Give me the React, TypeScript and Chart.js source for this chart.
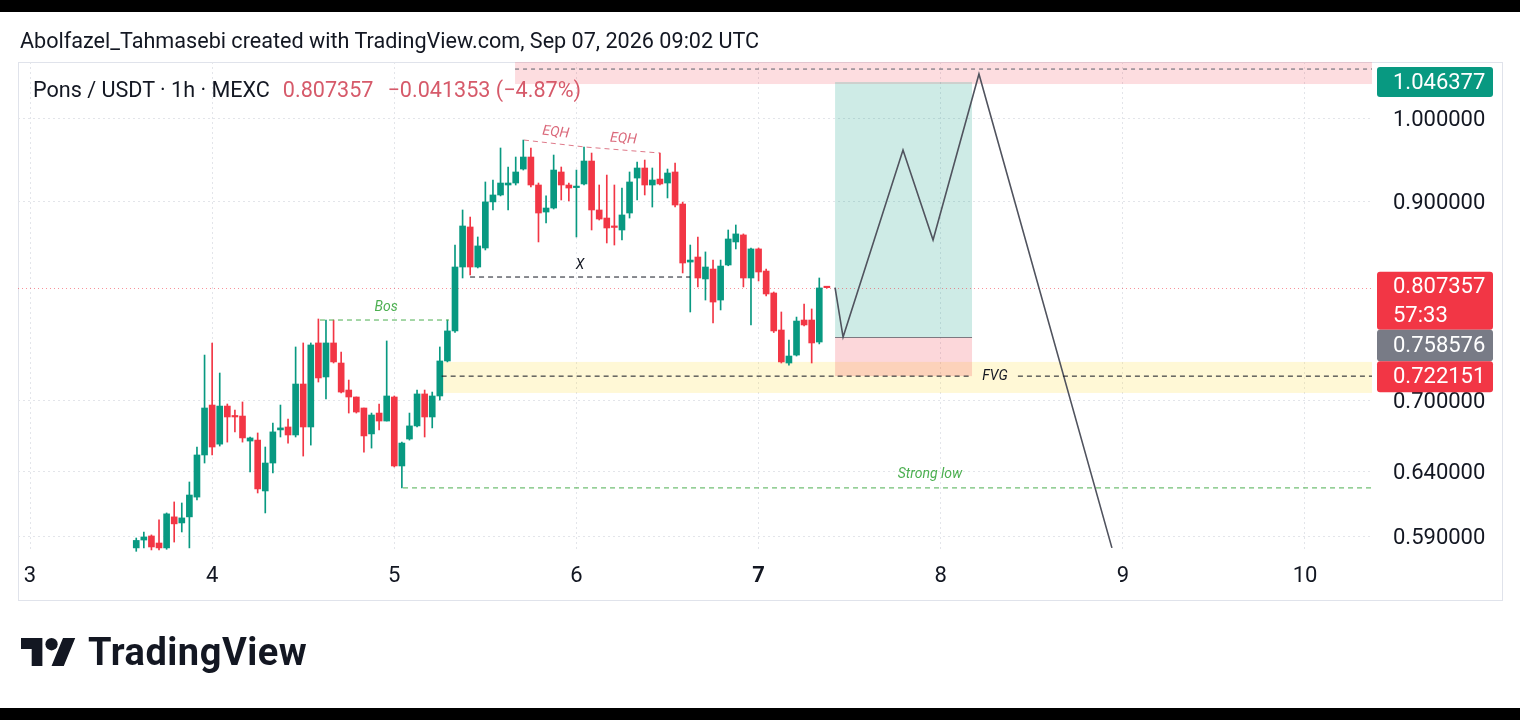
import React, { useEffect, useRef } from 'react';
import { Chart, registerables } from 'chart.js';

Chart.register(...registerables);

// ---------- DATA ----------
// 1h candles of Pons/USDT, first visible candle = day 3, 14:00 UTC
const FIRST_CANDLE_HOUR = 3 * 24 + 14;
const opens = [
  0.5815, 0.5873, 0.5903, 0.5851, 0.5815, 0.6047, 0.6001, 0.6047, 0.6200, 0.6538,
  0.6963, 0.6628, 0.6954, 0.6867, 0.6867, 0.6654, 0.6662, 0.6248, 0.6472, 0.6748,
  0.6773, 0.6705, 0.7150, 0.6773, 0.7530, 0.7214, 0.7530, 0.7342, 0.7096, 0.7034,
  0.6937, 0.6714, 0.6893, 0.6824, 0.7034, 0.6448, 0.6671, 0.6782, 0.7061, 0.6859,
  0.7043, 0.7361, 0.7645, 0.8287, 0.8716, 0.8287, 0.8488, 0.8996, 0.9075, 0.9190,
  0.9213, 0.9377, 0.9520, 0.9190, 0.8882, 0.8927, 0.9342, 0.9190, 0.9160, 0.9202,
  0.9472, 0.8905, 0.8815, 0.8722, 0.8683, 0.8871, 0.9271, 0.9389, 0.9190, 0.9259,
  0.9213, 0.9342, 0.8972, 0.8339, 0.8392, 0.8163, 0.8266, 0.7949, 0.8308, 0.8553,
  0.8629, 0.8173, 0.8478, 0.8245, 0.8020, 0.7654, 0.7342, 0.7416, 0.7751, 0.7751,
  0.7539, 0.8078,
];
const highs = [
  0.5888, 0.5933, 0.5911, 0.6024, 0.6077, 0.6162, 0.6154, 0.6319, 0.6604, 0.7416,
  0.7530, 0.7250, 0.6972, 0.6919, 0.6990, 0.6688, 0.6722, 0.6604, 0.6807, 0.6963,
  0.6841, 0.7492, 0.7530, 0.7530, 0.7761, 0.7751, 0.7751, 0.7444, 0.7186, 0.7034,
  0.6937, 0.6893, 0.6972, 0.7549, 0.7043, 0.6645, 0.6893, 0.7096, 0.7096, 0.7078,
  0.7492, 0.7751, 0.8520, 0.8905, 0.8826, 0.8607, 0.9225, 0.9248, 0.9629, 0.9401,
  0.9520, 0.9726, 0.9629, 0.9213, 0.9064, 0.9544, 0.9401, 0.9213, 0.9365, 0.9641,
  0.9568, 0.9190, 0.9306, 0.9190, 0.9155, 0.9342, 0.9460, 0.9484, 0.9389, 0.9568,
  0.9377, 0.9448, 0.8994, 0.8520, 0.8607, 0.8446, 0.8360, 0.8360, 0.8683, 0.8738,
  0.8640, 0.8488, 0.8488, 0.8266, 0.8030, 0.7830, 0.7558, 0.7780, 0.7908, 0.7860,
  0.8173, 0.8082,
];
const lows = [
  0.5790, 0.5815, 0.5800, 0.5800, 0.5805, 0.5858, 0.5933, 0.5815, 0.6177, 0.6472,
  0.6538, 0.6612, 0.6645, 0.6731, 0.6645, 0.6399, 0.6232, 0.6077, 0.6391, 0.6688,
  0.6637, 0.6688, 0.6529, 0.6620, 0.7168, 0.7016, 0.7342, 0.7070, 0.6893, 0.6893,
  0.6562, 0.6595, 0.6748, 0.6824, 0.6440, 0.6272, 0.6662, 0.6773, 0.6688, 0.6765,
  0.7007, 0.7352, 0.7630, 0.8173, 0.8204, 0.8277, 0.8467, 0.8905, 0.9064, 0.8905,
  0.9190, 0.9365, 0.9167, 0.8553, 0.8760, 0.8916, 0.9018, 0.9006, 0.8607, 0.9190,
  0.8683, 0.8793, 0.8542, 0.8520, 0.8574, 0.8815, 0.9018, 0.9075, 0.8938, 0.9190,
  0.9041, 0.8938, 0.8225, 0.7830, 0.8081, 0.7949, 0.7722, 0.7850, 0.8300, 0.8478,
  0.8081, 0.7703, 0.8142, 0.7990, 0.7630, 0.7342, 0.7323, 0.7407, 0.7694, 0.7342,
  0.7521, 0.8068,
];
const closes = [
  0.5870, 0.5896, 0.5822, 0.5815, 0.6070, 0.5994, 0.6039, 0.6216, 0.6538, 0.6937,
  0.6604, 0.6954, 0.6859, 0.6859, 0.6680, 0.6680, 0.6264, 0.6472, 0.6731, 0.6765,
  0.6705, 0.7150, 0.6773, 0.7511, 0.7205, 0.7530, 0.7352, 0.7078, 0.7034, 0.6902,
  0.6697, 0.6876, 0.6824, 0.7043, 0.6448, 0.6637, 0.6782, 0.7061, 0.6859, 0.7043,
  0.7361, 0.7645, 0.8287, 0.8727, 0.8287, 0.8510, 0.8996, 0.9075, 0.9213, 0.9213,
  0.9342, 0.9520, 0.9190, 0.8871, 0.8927, 0.9365, 0.9190, 0.9155, 0.9172, 0.9472,
  0.8905, 0.8804, 0.8705, 0.8711, 0.8849, 0.9225, 0.9389, 0.9190, 0.9248, 0.9202,
  0.9330, 0.8961, 0.8329, 0.8360, 0.8173, 0.8287, 0.7929, 0.8297, 0.8585, 0.8640,
  0.8173, 0.8478, 0.8235, 0.8010, 0.7645, 0.7352, 0.7407, 0.7741, 0.7703, 0.7530,
  0.8071, 0.807357,
];

// axis ticks
const TIME_TICKS = [3, 4, 5, 6, 7, 8, 9, 10];
const BOLD_DAY = 7;
const PRICE_TICKS = [0.59, 0.64, 0.7, 0.9, 1.0];

// price levels
const LAST_PRICE = 0.807357;
const ENTRY_PRICE = 0.758576;
const TARGET_PRICE = 1.046377;
const STOP_PRICE = 0.722151;
const COUNTDOWN = '57:33';

// drawings (time in days, price)
const TARGET_ZONE = { start: 5.663, top: 1.09, bottom: 1.0438, dash: 1.0637 };
const FVG_ZONE = { start: 5.26, top: 0.7352, bottom: 0.707, level: STOP_PRICE, gapFrom: 8.172, gapTo: 8.424 };
const POSITION = { start: 7.42, end: 8.172 };
const PATH_TIMES = [7.42, 7.464, 7.793, 7.958, 8.21, 8.94];
const PATH_PRICES = [0.807357, 0.758576, 0.9605, 0.8574, 1.0571, 0.5815];
const X_LINE = { from: 5.416, to: 6.624, price: 0.8183 };
const BOS_LINE = { from: 4.592, to: 5.3, price: 0.7751 };
const STRONG_LOW = { from: 5.048, price: 0.6272 };
const EQH_TIMES = [5.712, 6.047, 6.459];
const EQH_PRICES = [0.9726, 0.9641, 0.9568];

// label anchors (time)
const LABEL_X_T = 6.02;
const LABEL_BOS_T = 4.955;
const LABEL_STRONG_T = 7.941;
const LABEL_FVG_T = 8.298;

// ---------- STYLE ----------
const UP = '#089981';
const DOWN = '#f23645';
const HEADER_RED = '#d65a6a';
const TEXT = '#131722';
const GRID = '#e3e5ea';
const X_MIN = 2.9341;
const X_MAX = 10.3679;
const Y_MIN = 0.5785;
const Y_MAX = 1.0732;
const FONT = 'Roboto, "Noto Sans", sans-serif';

const candleTimes = opens.map((_, i) => (FIRST_CANDLE_HOUR + i) / 24);
const candleColors = opens.map((o, i) => (closes[i] >= o ? UP : DOWN));

function seg(xs: number[], ys: number[], color: string, dash: number[], width = 1) {
  return {
    type: 'line' as const,
    data: xs.map((x, i) => ({ x, y: ys[i] })),
    borderColor: color,
    borderDash: dash,
    borderWidth: width,
    pointRadius: 0,
    tension: 0,
    fill: false,
    order: 1,
  };
}

const overlayPlugin = {
  id: 'overlay',
  beforeDatasetsDraw(chart: any) {
    const { ctx, chartArea: a, scales } = chart;
    const xs = scales.x;
    const ys = scales.y;
    ctx.save();
    ctx.beginPath();
    ctx.rect(a.left, a.top, a.right - a.left, a.bottom - a.top);
    ctx.clip();
    const rect = (t0: number, t1: number, p0: number, p1: number, c: string) => {
      const x0 = xs.getPixelForValue(t0);
      const x1 = xs.getPixelForValue(t1);
      const y0 = ys.getPixelForValue(p0);
      const y1 = ys.getPixelForValue(p1);
      ctx.fillStyle = c;
      ctx.fillRect(Math.min(x0, x1), Math.min(y0, y1), Math.abs(x1 - x0), Math.abs(y1 - y0));
    };
    rect(TARGET_ZONE.start, X_MAX, TARGET_ZONE.top, TARGET_ZONE.bottom, 'rgba(242,54,69,0.17)');
    rect(FVG_ZONE.start, X_MAX, FVG_ZONE.top, FVG_ZONE.bottom, 'rgba(255,225,70,0.22)');
    rect(POSITION.start, POSITION.end, TARGET_PRICE, ENTRY_PRICE, 'rgba(8,153,129,0.2)');
    rect(POSITION.start, POSITION.end, ENTRY_PRICE, STOP_PRICE, 'rgba(242,54,69,0.2)');
    // entry line
    const ey = Math.round(ys.getPixelForValue(ENTRY_PRICE)) + 0.5;
    ctx.strokeStyle = 'rgba(110,110,118,0.9)';
    ctx.lineWidth = 1;
    ctx.beginPath();
    ctx.moveTo(xs.getPixelForValue(POSITION.start), ey);
    ctx.lineTo(xs.getPixelForValue(POSITION.end), ey);
    ctx.stroke();
    // last price dotted line
    const ly = Math.round(ys.getPixelForValue(LAST_PRICE)) + 0.5;
    ctx.strokeStyle = 'rgba(242,54,69,0.55)';
    ctx.setLineDash([1, 3]);
    ctx.beginPath();
    ctx.moveTo(a.left, ly);
    ctx.lineTo(a.right, ly);
    ctx.stroke();
    ctx.restore();
  },
  afterDatasetsDraw(chart: any) {
    const { ctx, scales } = chart;
    const xs = scales.x;
    const ys = scales.y;
    ctx.save();
    ctx.textAlign = 'center';
    ctx.textBaseline = 'middle';
    const label = (txt: string, t: number, p: number, dy: number, color: string, size = 14) => {
      ctx.font = `italic ${size}px ${FONT}`;
      ctx.fillStyle = color;
      ctx.fillText(txt, xs.getPixelForValue(t), ys.getPixelForValue(p) + dy);
    };
    label('X', LABEL_X_T, X_LINE.price, -12, TEXT);
    label('Bos', LABEL_BOS_T, BOS_LINE.price, -13, '#4caf50');
    label('Strong low', LABEL_STRONG_T, STRONG_LOW.price, -13, '#4caf50');
    label('FVG', LABEL_FVG_T, FVG_ZONE.level, 0, TEXT);
    // EQH labels, rotated along the segments
    for (let i = 0; i < EQH_TIMES.length - 1; i++) {
      const x0 = xs.getPixelForValue(EQH_TIMES[i]);
      const x1 = xs.getPixelForValue(EQH_TIMES[i + 1]);
      const y0 = ys.getPixelForValue(EQH_PRICES[i]);
      const y1 = ys.getPixelForValue(EQH_PRICES[i + 1]);
      ctx.save();
      ctx.translate((x0 + x1) / 2, (y0 + y1) / 2);
      ctx.rotate(Math.atan2(y1 - y0, x1 - x0));
      ctx.font = `italic 14px ${FONT}`;
      ctx.fillStyle = 'rgba(214,88,108,0.9)';
      ctx.fillText('EQH', 0, -11);
      ctx.restore();
    }
    ctx.restore();
  },
  afterDraw(chart: any) {
    const { ctx, chartArea: a, scales } = chart;
    const ys = scales.y;
    ctx.save();
    ctx.font = `22px ${FONT}`;
    ctx.textBaseline = 'middle';
    ctx.textAlign = 'left';
    const bx = a.right + 5;
    const bw = 116;
    const tx = a.right + 21;
    const box = (top: number, h: number, color: string, lines: string[]) => {
      ctx.fillStyle = color;
      ctx.beginPath();
      (ctx as any).roundRect(bx, top, bw, h, 3);
      ctx.fill();
      ctx.fillStyle = '#ffffff';
      const lh = h / lines.length;
      lines.forEach((l, i) => ctx.fillText(l, tx, top + lh * i + lh / 2 + 1));
    };
    const tY = ys.getPixelForValue(TARGET_PRICE);
    box(tY - 15, 30, UP, [TARGET_PRICE.toFixed(6)]);
    const lY = ys.getPixelForValue(LAST_PRICE);
    const redTop = lY - 16;
    box(redTop, 58, DOWN, [LAST_PRICE.toFixed(6), COUNTDOWN]);
    const eY = ys.getPixelForValue(ENTRY_PRICE);
    const grayTop = Math.max(eY - 15, redTop + 58);
    const sY = ys.getPixelForValue(STOP_PRICE);
    const stopTop = Math.max(sY - 15, grayTop + 30);
    box(grayTop, stopTop - grayTop, '#787b86', [ENTRY_PRICE.toFixed(6)]);
    box(stopTop, 31, DOWN, [STOP_PRICE.toFixed(6)]);
    ctx.restore();
  },
};

export default function App() {
  const ref = useRef<HTMLCanvasElement>(null);

  useEffect(() => {
    const datasets: any[] = [
      {
        type: 'bar',
        label: 'wicks',
        data: candleTimes.map((t, i) => ({ x: t, y: [lows[i], highs[i]] })),
        backgroundColor: candleColors,
        barThickness: 1,
        grouped: false,
        borderWidth: 0,
        order: 3,
      },
      {
        type: 'bar',
        label: 'bodies',
        data: candleTimes.map((t, i) => ({ x: t, y: [opens[i], closes[i]] })),
        backgroundColor: candleColors,
        barThickness: 6,
        grouped: false,
        borderWidth: 0,
        minBarLength: 1.5,
        order: 2,
      },
      seg([TARGET_ZONE.start, X_MAX], [TARGET_ZONE.dash, TARGET_ZONE.dash], '#5d606b', [4, 4]),
      seg([FVG_ZONE.start, FVG_ZONE.gapFrom], [FVG_ZONE.level, FVG_ZONE.level], TEXT, [5, 4]),
      seg([FVG_ZONE.gapTo, X_MAX], [FVG_ZONE.level, FVG_ZONE.level], TEXT, [5, 4]),
      seg([X_LINE.from, X_LINE.to], [X_LINE.price, X_LINE.price], TEXT, [5, 4]),
      seg([BOS_LINE.from, BOS_LINE.to], [BOS_LINE.price, BOS_LINE.price], '#4caf50', [5, 4]),
      seg([STRONG_LOW.from, X_MAX], [STRONG_LOW.price, STRONG_LOW.price], '#4caf50', [5, 4]),
      seg(EQH_TIMES, EQH_PRICES, 'rgba(214,88,108,0.8)', [5, 4]),
      seg(PATH_TIMES, PATH_PRICES, '#50535e', [], 1.6),
    ];

    const chart = new Chart(ref.current as HTMLCanvasElement, {
      type: 'bar',
      data: { datasets },
      options: {
        animation: false,
        responsive: false,
        devicePixelRatio: 1,
        events: [],
        layout: { padding: { left: 18, top: 62, right: 18, bottom: 120 } },
        plugins: { legend: { display: false }, tooltip: { enabled: false } },
        scales: {
          x: {
            type: 'linear',
            min: X_MIN,
            max: X_MAX,
            offset: false,
            grid: { color: GRID, drawTicks: false, offset: false },
            border: { display: false, dash: [2, 3] },
            ticks: {
              padding: 11,
              color: TEXT,
              autoSkip: false,
              maxRotation: 0,
              font: (c: any) => ({
                family: FONT,
                size: 22,
                weight: c.tick && c.tick.value === BOLD_DAY ? 'bold' : 'normal',
              }),
              callback: (v: any) => String(v),
            },
            afterBuildTicks: (s: any) => {
              s.ticks = TIME_TICKS.map((v) => ({ value: v }));
            },
            afterFit: (s: any) => {
              s.height = 48;
            },
          },
          y: {
            type: 'logarithmic',
            position: 'right',
            min: Y_MIN,
            max: Y_MAX,
            grid: { color: GRID, drawTicks: false },
            border: { display: false, dash: [2, 3] },
            ticks: {
              padding: 21,
              labelOffset: 2,
              color: TEXT,
              font: { family: FONT, size: 22 },
              callback: (v: any) => Number(v).toFixed(6),
            },
            afterBuildTicks: (s: any) => {
              s.ticks = PRICE_TICKS.map((v) => ({ value: v }));
            },
            afterFit: (s: any) => {
              s.width = 130;
            },
          },
        },
      } as any,
      plugins: [overlayPlugin],
    });
    return () => chart.destroy();
  }, []);

  return (
    <div
      style={{
        position: 'fixed',
        left: 0,
        top: 0,
        width: 1520,
        height: 720,
        background: '#ffffff',
        overflow: 'hidden',
        fontFamily: FONT,
        color: TEXT,
      }}
    >
      <div style={{ position: 'absolute', left: 0, top: 0, width: 1520, height: 12, background: '#000' }} />
      <div style={{ position: 'absolute', left: 0, top: 708, width: 1520, height: 12, background: '#000' }} />
      <div
        style={{
          position: 'absolute',
          left: 18,
          top: 62,
          width: 1485,
          height: 539,
          border: '1px solid #e0e3eb',
          boxSizing: 'border-box',
        }}
      />
      <canvas ref={ref} width={1520} height={720} style={{ position: 'absolute', left: 0, top: 0 }} />
      <div style={{ position: 'absolute', left: 20, top: 29, fontSize: 21.6, lineHeight: '24px', whiteSpace: 'nowrap' }}>
        Abolfazel_Tahmasebi created with TradingView.com, Sep 07, 2026 09:02 UTC
      </div>
      <div style={{ position: 'absolute', left: 33, top: 78, fontSize: 21.6, lineHeight: '24px', whiteSpace: 'nowrap' }}>
        <span>Pons / USDT · 1h · MEXC</span>
        <span style={{ color: HEADER_RED, marginLeft: 13 }}>0.807357</span>
        <span style={{ color: HEADER_RED, marginLeft: 14 }}>−0.041353 (−4.87%)</span>
      </div>
      <svg
        width="55"
        height="28"
        viewBox="0 4 36 18"
        preserveAspectRatio="none"
        style={{ position: 'absolute', left: 21, top: 638 }}
      >
        <path d="M14 22H7V11H0V4h14v18zM28 22h-8l7.5-18h8L28 22z" fill={TEXT} />
        <circle cx="20" cy="8" r="4" fill={TEXT} />
      </svg>
      <div
        style={{
          position: 'absolute',
          left: 88,
          top: 630,
          fontSize: 38,
          fontWeight: 700,
          lineHeight: '44px',
          letterSpacing: '0.5px',
          whiteSpace: 'nowrap',
        }}
      >
        TradingView
      </div>
    </div>
  );
}
